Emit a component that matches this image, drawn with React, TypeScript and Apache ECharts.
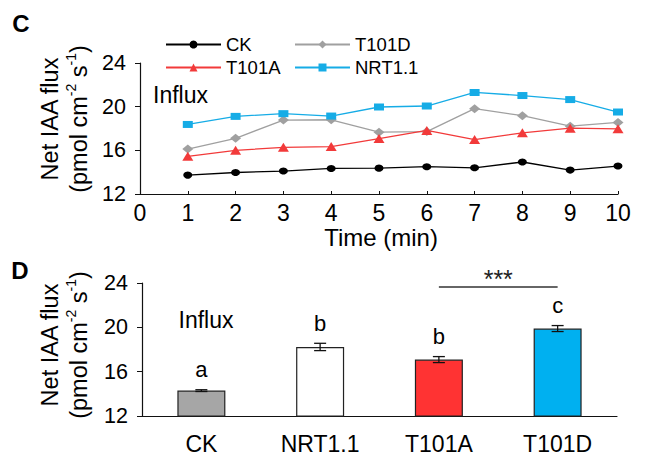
import React, { useEffect, useRef } from "react";
import * as echarts from "echarts";

const FONT = '"Liberation Sans", Arial, Helvetica, sans-serif';

// Panel C: time course (min) and net IAA influx
const times = [1, 2, 3, 4, 5, 6, 7, 8, 9, 10];
const ckFlux = [13.73, 13.97, 14.1, 14.34, 14.37, 14.5, 14.4, 14.93, 14.19, 14.56];
const t101aFlux = [15.45, 16.0, 16.28, 16.34, 17.08, 17.82, 16.99, 17.6, 18.03, 17.97];
const t101dFlux = [16.12, 17.1, 18.77, 18.8, 17.66, 17.72, 19.82, 19.17, 18.21, 18.56];
const nrtFlux = [18.37, 19.11, 19.36, 19.14, 19.97, 20.06, 21.3, 21.02, 20.65, 19.51];

// Panel D: mean influx per line
const barCategories = ["CK", "NRT1.1", "T101A", "T101D"];
const barMeans = [14.29, 18.23, 17.09, 19.89];
const barErrors = [0.08, 0.33, 0.27, 0.27];
const barLetters = ["a", "b", "b", "c"];
const barColors = ["#a6a6a6", "#ffffff", "#ff3333", "#00b0f0"];
const sigLevel = 23.64;
const sigLabel = "***";

const yMin = 12;
const yMax = 24;
const yInterval = 4;

const yNameText = "{a|Net IAA flux}\n{a|(pmol cm}{s|-2}{a| s}{s|-1}{a|)}";
const yNameRich = {
  a: { fontSize: 23.5, fontFamily: FONT, fill: "#000", lineHeight: 29 },
  s: { fontSize: 14, fontFamily: FONT, fill: "#000", lineHeight: 16, verticalAlign: "top" },
};

export default function App() {
  const ref = useRef<HTMLDivElement>(null);
  useEffect(() => {
    if (!ref.current) return;
    const chart = echarts.init(ref.current, null, { renderer: "svg" });

    const lineSeries = (name: string, vals: number[], color: string, symbol: string, size: any, z: number) => ({
      name,
      type: "line",
      xAxisIndex: 0,
      yAxisIndex: 0,
      data: times.map((t, i) => [t, vals[i]]),
      symbol,
      symbolSize: size,
      z,
      lineStyle: { color, width: 1.3 },
      itemStyle: { color, borderWidth: 0 },
    });

    const legendBase = (name: string, left: number, top: number) => ({
      data: [name],
      left,
      top,
      orient: "horizontal",
      itemWidth: 55,
      itemHeight: 10,
      itemGap: 0,
      padding: 0,
      textStyle: { fontSize: 18.5, color: "#000", fontFamily: FONT },
    });

    const axisCommonY = (gridIndex: number) => ({
      type: "value",
      gridIndex,
      min: yMin,
      max: yMax,
      interval: yInterval,
      axisLine: { show: true, lineStyle: { color: "#111", width: 1.2 } },
      axisTick: { show: true, inside: false, length: 5, lineStyle: { color: "#111" } },
      axisLabel: { fontSize: 21.5, color: "#000", fontFamily: FONT, margin: 14 },
      splitLine: { show: false },
    });

    chart.setOption({
      animation: false,
      backgroundColor: "#fff",
      grid: [
        { left: 140, right: 28, top: 63, height: 131 },
        { left: 142, right: 29, top: 283, height: 133 },
      ],
      legend: [
        legendBase("CK", 165, 35),
        legendBase("T101D", 294, 35),
        legendBase("T101A", 165, 58),
        legendBase("NRT1.1", 294, 58),
      ],
      xAxis: [
        {
          type: "value",
          gridIndex: 0,
          min: 0,
          max: 10,
          interval: 1,
          axisLine: { show: true, lineStyle: { color: "#111", width: 1.2 } },
          axisTick: { show: true, inside: true, length: 3, lineStyle: { color: "#111" } },
          axisLabel: { fontSize: 23, color: "#000", fontFamily: FONT, margin: 7 },
          splitLine: { show: false },
        },
        {
          type: "category",
          gridIndex: 1,
          data: barCategories,
          axisLine: { show: true, lineStyle: { color: "#111", width: 1.2 } },
          axisTick: { show: false },
          axisLabel: { fontSize: 23, color: "#000", fontFamily: FONT, margin: 16 },
        },
      ],
      yAxis: [axisCommonY(0), axisCommonY(1)],
      series: [
        lineSeries("CK", ckFlux, "#000000", "circle", [9, 7], 5),
        lineSeries("T101D", t101dFlux, "#a0a0a0", "diamond", [11, 9], 3),
        lineSeries("T101A", t101aFlux, "#f23a3a", "triangle", [11, 9], 4),
        lineSeries("NRT1.1", nrtFlux, "#16ace6", "rect", [10, 7], 6),
        {
          name: "bars",
          type: "bar",
          xAxisIndex: 1,
          yAxisIndex: 1,
          barWidth: 48,
          data: barMeans.map((v, i) => ({
            value: v,
            itemStyle: { color: barColors[i], borderColor: "#222", borderWidth: 1.2 },
          })),
          markLine: {
            silent: true,
            symbol: ["none", "none"],
            lineStyle: { color: "#333", width: 1.5, type: "solid" },
            label: {
              show: true,
              formatter: sigLabel,
              position: "insideMiddleTop",
              distance: 0,
              offset: [0, 5],
              fontSize: 25,
              color: "#222",
              fontFamily: FONT,
            },
            data: [[{ coord: ["T101A", sigLevel] }, { coord: ["T101D", sigLevel] }]],
          },
        },
        {
          name: "errors",
          type: "custom",
          xAxisIndex: 1,
          yAxisIndex: 1,
          z: 5,
          data: barMeans.map((m, i) => [i, m, barErrors[i]]),
          encode: { x: 0, y: 1 },
          renderItem: (params: any, api: any) => {
            const i = api.value(0);
            const m = api.value(1);
            const e = api.value(2);
            const top = api.coord([i, m + e]);
            const bot = api.coord([i, m - e]);
            const x = top[0];
            const cap = 6;
            const ls = { stroke: "#111", lineWidth: 1.3 };
            return {
              type: "group",
              children: [
                { type: "line", shape: { x1: x, y1: top[1], x2: x, y2: bot[1] }, style: ls },
                { type: "line", shape: { x1: x - cap, y1: top[1], x2: x + cap, y2: top[1] }, style: ls },
                { type: "line", shape: { x1: x - cap, y1: bot[1], x2: x + cap, y2: bot[1] }, style: ls },
                {
                  type: "text",
                  x,
                  y: top[1] - 9,
                  style: {
                    text: barLetters[params.dataIndex],
                    fontSize: 22,
                    fontFamily: FONT,
                    fill: "#000",
                    align: "center",
                    verticalAlign: "bottom",
                    textAlign: "center",
                    textVerticalAlign: "bottom",
                  },
                },
              ],
            };
          },
        },
      ],
      graphic: [
        {
          type: "text",
          x: 21,
          y: 23,
          style: { text: "C", fontSize: 24, fontWeight: "bold", fontFamily: FONT, fill: "#000", align: "center", verticalAlign: "middle" },
        },
        {
          type: "text",
          x: 20,
          y: 270,
          style: { text: "D", fontSize: 24, fontWeight: "bold", fontFamily: FONT, fill: "#000", align: "center", verticalAlign: "middle" },
        },
        {
          type: "text",
          x: 180.5,
          y: 95,
          style: { text: "Influx", fontSize: 23, fontFamily: FONT, fill: "#000", align: "center", verticalAlign: "middle" },
        },
        {
          type: "text",
          x: 206,
          y: 320,
          style: { text: "Influx", fontSize: 23, fontFamily: FONT, fill: "#000", align: "center", verticalAlign: "middle" },
        },
        {
          type: "text",
          x: 381,
          y: 237,
          style: { text: "Time (min)", fontSize: 24, fontFamily: FONT, fill: "#000", align: "center", verticalAlign: "middle" },
        },
        {
          type: "text",
          x: 64,
          y: 119,
          rotation: Math.PI / 2,
          style: { text: yNameText, rich: yNameRich, align: "center", verticalAlign: "middle" },
        },
        {
          type: "text",
          x: 64,
          y: 345,
          rotation: Math.PI / 2,
          style: { text: yNameText, rich: yNameRich, align: "center", verticalAlign: "middle" },
        },
      ],
    });
    return () => chart.dispose();
  }, []);
  return (
    <div
      ref={ref}
      style={{ position: "absolute", left: 0, top: 0, width: 646, height: 468 }}
    />
  );
}
